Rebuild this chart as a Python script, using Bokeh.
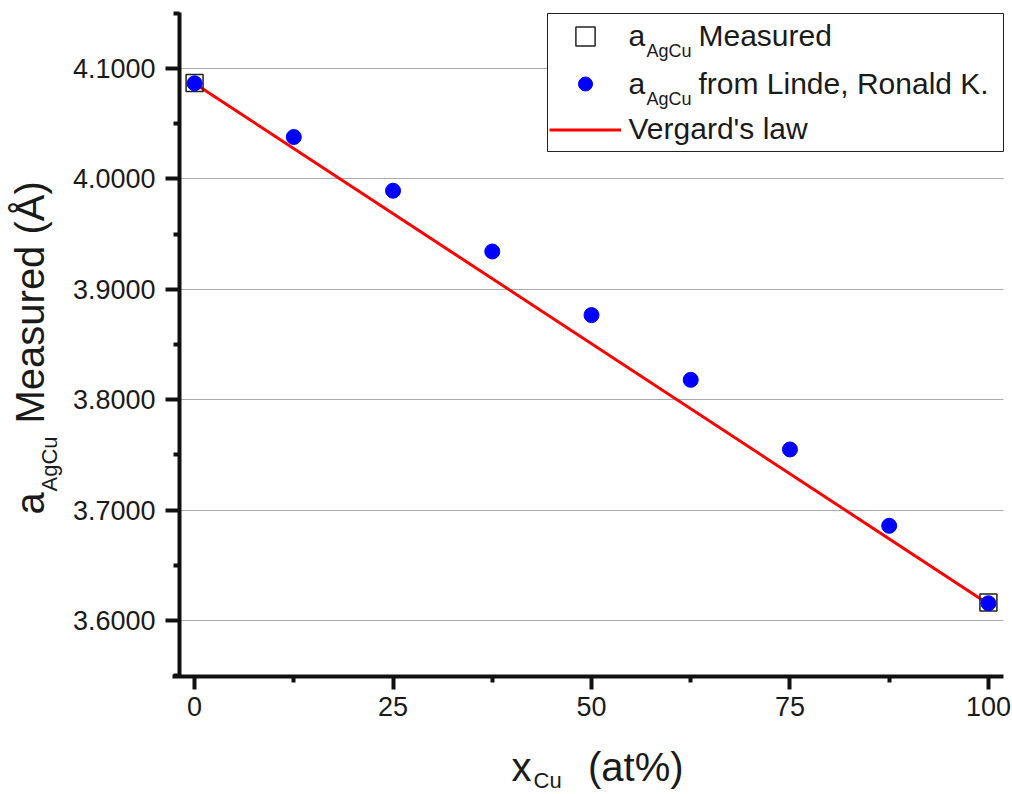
import math
from bokeh.plotting import figure
from bokeh.models import (Range1d, FixedTicker, Label, Legend, LegendItem, BoxAnnotation)
from bokeh.embed import file_html
from bokeh.resources import INLINE

# ---------------- data ----------------
x_cu = [0, 12.5, 25, 37.5, 50, 62.5, 75, 87.5, 100]
a_linde = [4.0864, 4.0378, 3.9892, 3.9342, 3.8766, 3.8180, 3.7550, 3.6859, 3.6158]
x_measured = [0, 100]
a_measured = [4.0868, 3.6164]
x_vegard = [0, 100]
a_vegard = [4.0862, 3.6152]

x_ticks = [0, 25, 50, 75, 100]
x_minor = [12.5, 37.5, 62.5, 87.5]
x_tick_labels = ["0", "25", "50", "75", "100"]
y_ticks = [3.6, 3.7, 3.8, 3.9, 4.0, 4.1]
y_minor = [3.55, 3.65, 3.75, 3.85, 3.95, 4.05, 4.15]
y_tick_labels = ["3.6000", "3.7000", "3.8000", "3.9000", "4.0000", "4.1000"]

legend_main = ["Measured", "from Linde, Ronald K.", "Vergard's law"]
sub_a = "a"
sub_agcu = "AgCu"

# visible axis extents (data units)
X_LO, X_HI = -1.9, 101.9
Y_LO, Y_HI = 3.5495, 4.1505

FONT = "Liberation Sans"
W, H = 1012, 794
# pixel box of the plotting area inside the canvas
PL, PR, PT, PB = 179, 1003, 12, 676

kx = (PR - PL) / (X_HI - X_LO)
ky = (PB - PT) / (Y_HI - Y_LO)
x_range = Range1d(X_LO - PL / kx, X_HI + (W - PR) / kx)
y_range = Range1d(Y_LO - (H - PB) / ky, Y_HI + PT / ky)

p = figure(width=W, height=H, output_backend="svg", toolbar_location=None,
           x_range=x_range, y_range=y_range, min_border=0)
p.outline_line_color = None
p.background_fill_color = "white"
p.border_fill_color = "white"

# axes, pinned at the plot-area edges so the frame can fill the canvas
for ax in (p.xaxis[0], p.yaxis[0]):
    ax.axis_line_width = 4
    ax.axis_line_color = "#111111"
    ax.major_tick_line_width = 4
    ax.minor_tick_line_width = 4
    ax.major_tick_line_color = "#111111"
    ax.minor_tick_line_color = "#111111"
    ax.major_tick_in = 0
    ax.minor_tick_in = 0
    ax.major_label_text_font = FONT
    ax.major_label_text_font_size = "27px"
    ax.major_label_text_color = "#1a1a1a"
    ax.axis_label = None

p.xaxis.fixed_location = Y_LO
p.xaxis.bounds = (X_LO - 0.9, X_HI)
p.xaxis.ticker = FixedTicker(ticks=x_ticks, minor_ticks=x_minor)
p.xaxis.major_label_overrides = {t: l for t, l in zip(x_ticks, x_tick_labels)}
p.xaxis.major_tick_out = 13
p.xaxis.minor_tick_out = 6
p.xaxis.major_label_standoff = 7

p.yaxis.fixed_location = X_LO
p.yaxis.bounds = (Y_LO, Y_HI)
p.yaxis.ticker = FixedTicker(ticks=y_ticks, minor_ticks=y_minor)
p.yaxis.major_label_overrides = {t: l for t, l in zip(y_ticks, y_tick_labels)}
p.yaxis.major_tick_out = 14
p.yaxis.minor_tick_out = 6
p.yaxis.major_label_standoff = 10

p.xgrid.grid_line_color = None
p.ygrid.grid_line_color = "#aaaaaa"
p.ygrid.grid_line_width = 1
p.ygrid.bounds = (Y_LO, Y_HI)
p.ygrid.cross_bounds = (X_LO, X_HI)

# opaque legend box (covers the grid line), drawn below the data
LG_L, LG_R, LG_T, LG_B = 547, 1003, 13, 151
p.add_layout(BoxAnnotation(left=LG_L, right=LG_R, top=H - LG_T, bottom=H - LG_B,
                           left_units="screen", right_units="screen",
                           top_units="screen", bottom_units="screen",
                           fill_color="white", fill_alpha=1,
                           line_color="#222222", line_width=1, line_alpha=1,
                           level="underlay"))

# data
r_line = p.line(x_vegard, a_vegard, line_color="#ff0000", line_width=3)
r_sq = p.scatter(x_measured, a_measured, marker="square", size=17,
                 fill_color=None, line_color="#222222", line_width=1.5)
r_circ = p.scatter(x_cu, a_linde, marker="circle", size=15,
                   fill_color="#0000ff", line_color="#0000ff")

def glyph_legend(items, left, bottom, gh, spacing):
    lg = Legend(items=items, location=(left, H - bottom), orientation="vertical",
                padding=0, spacing=spacing, margin=0,
                glyph_width=72, glyph_height=gh, label_standoff=0,
                label_width=10, label_height=10,
                label_text_font_size="1px", label_text_alpha=0,
                border_line_color=None, background_fill_alpha=0)
    p.add_layout(lg)

# square row (larger marker), circle + line rows (smaller marker)
glyph_legend([LegendItem(label=" ", renderers=[r_sq])], 549, 60, 48, 0)
glyph_legend([LegendItem(label=" ", renderers=[r_circ]),
              LegendItem(label=" ", renderers=[r_line])], 549, 146.5, 35, 11)

SH = 0.35  # renderer puts the baseline this many em below the anchor

def lab(text, cx, cy, size, angle=0.0):
    if angle:
        cx = cx - SH * size
    else:
        cy = cy - SH * size
    p.add_layout(Label(x=cx, y=H - cy, x_units="screen", y_units="screen",
                       text=text, text_font=FONT, text_font_size=f"{size}px",
                       text_color="#1a1a1a", text_align="left",
                       text_baseline="alphabetic", angle=angle, level="overlay"))

# legend texts
rows_y = [45, 93]
for i, ry in enumerate(rows_y):
    lab(sub_a, 628, ry, 30)
    lab(sub_agcu, 646, ry + 11.5, 18)
    lab(legend_main[i], 698, ry, 30)
lab(legend_main[2], 628, 138, 30)

# y axis title  a_AgCu Measured (Å)
lab("a", 43.5, 514, 40, math.pi / 2)
lab("AgCu", 57, 491, 22, math.pi / 2)
lab("Measured (Å)", 43.5, 423, 40, math.pi / 2)

# x axis title  x_Cu (at%)
lab("x", 511, 780, 40)
lab("Cu", 533, 788, 22)
lab("(at%)", 587.5, 780, 40)

open("out.html", "w").write(file_html(p, INLINE))
